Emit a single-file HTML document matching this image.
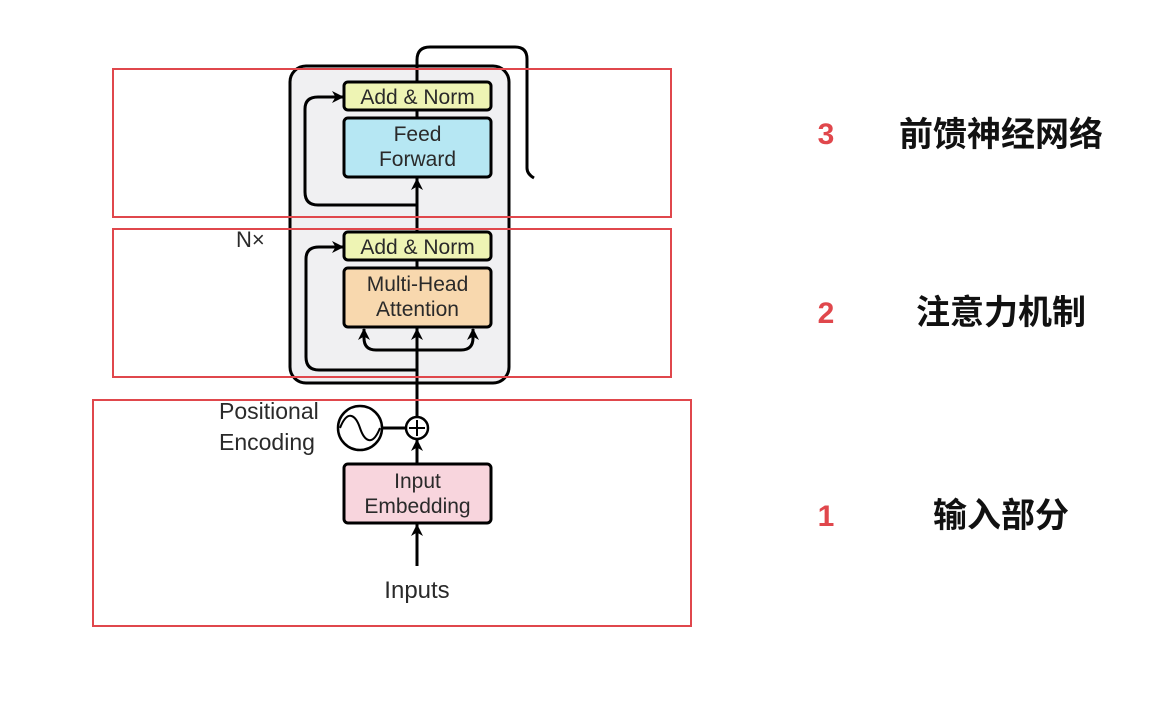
<!DOCTYPE html>
<html><head><meta charset="utf-8"><style>
html,body{margin:0;padding:0;background:#fff;width:1150px;height:710px;overflow:hidden}
svg{display:block}
.t{font-family:"Liberation Sans",sans-serif;fill:#2a2a2a;font-size:21px}
.cn{font-family:"Liberation Sans","Noto Sans CJK SC",sans-serif;font-weight:bold;font-size:34px;fill:#111}
.num{font-family:"Liberation Sans",sans-serif;font-weight:bold;font-size:30px;fill:#e0474c}
</style></head><body>
<svg width="1150" height="710" viewBox="0 0 1150 710">
<defs>
<marker id="a" markerWidth="14" markerHeight="14" refX="11" refY="6" orient="auto" markerUnits="userSpaceOnUse">
<path d="M0,0 L12,6 L0,12 L3.5,6 Z" fill="#000"/></marker>
</defs>
<rect x="290" y="66" width="219" height="317" rx="16" fill="#f0f0f2" stroke="#000" stroke-width="3"/>
<path d="M417,566 L417,60 Q417,47 430,47 L515,47 Q527,47 527,59 L527,168 Q527,174 534,178" fill="none" stroke="#000" stroke-width="3"/>
<line x1="417" y1="566" x2="417" y2="525" stroke="#000" stroke-width="3" marker-end="url(#a)"/>
<line x1="417" y1="462" x2="417" y2="440" stroke="#000" stroke-width="3" marker-end="url(#a)"/>
<line x1="417" y1="365" x2="417" y2="329" stroke="#000" stroke-width="3" marker-end="url(#a)"/>
<line x1="417" y1="205" x2="417" y2="179" stroke="#000" stroke-width="3" marker-end="url(#a)"/>
<path d="M417,205 L318,205 Q305,205 305,192 L305,109 Q305,97 318,97 L343,97" fill="none" stroke="#000" stroke-width="3" marker-end="url(#a)"/>
<path d="M417,370 L319,370 Q306,370 306,357 L306,259 Q306,247 319,247 L343,247" fill="none" stroke="#000" stroke-width="3" marker-end="url(#a)"/>
<path d="M417,350 L376,350 Q364,350 364,338 L364,329" fill="none" stroke="#000" stroke-width="3" marker-end="url(#a)"/>
<path d="M417,350 L461,350 Q473,350 473,338 L473,329" fill="none" stroke="#000" stroke-width="3" marker-end="url(#a)"/>
<rect x="344" y="82" width="147" height="28" rx="4" fill="#eef4b4" stroke="#000" stroke-width="3"/>
<text class="t" x="417.5" y="104" text-anchor="middle">Add &amp; Norm</text>
<rect x="344" y="118" width="147" height="59" rx="4" fill="#b6e7f3" stroke="#000" stroke-width="3"/>
<text class="t" x="417.5" y="141" text-anchor="middle">Feed</text>
<text class="t" x="417.5" y="166" text-anchor="middle">Forward</text>
<rect x="344" y="232" width="147" height="28" rx="4" fill="#eef4b4" stroke="#000" stroke-width="3"/>
<text class="t" x="417.5" y="254" text-anchor="middle">Add &amp; Norm</text>
<rect x="344" y="268" width="147" height="59" rx="4" fill="#f8d8ae" stroke="#000" stroke-width="3"/>
<text class="t" x="417.5" y="291" text-anchor="middle">Multi-Head</text>
<text class="t" x="417.5" y="316" text-anchor="middle">Attention</text>
<rect x="344" y="464" width="147" height="59" rx="4" fill="#f8d5dd" stroke="#000" stroke-width="3"/>
<text class="t" x="417.5" y="488" text-anchor="middle">Input</text>
<text class="t" x="417.5" y="513" text-anchor="middle">Embedding</text>
<line x1="382" y1="428" x2="406" y2="428" stroke="#000" stroke-width="3"/>
<circle cx="360" cy="428" r="22" fill="#fff" stroke="#000" stroke-width="2.5"/>
<path d="M340,428 C348,408 356,416 360,428 C364,440 372,448 380,428" fill="none" stroke="#000" stroke-width="2"/>
<circle cx="417" cy="428" r="11" fill="#fff" stroke="#000" stroke-width="2.5"/>
<line x1="417" y1="420" x2="417" y2="436" stroke="#000" stroke-width="2"/>
<line x1="409" y1="428" x2="425" y2="428" stroke="#000" stroke-width="2"/>
<text class="t" x="219" y="419" style="font-size:23px">Positional</text>
<text class="t" x="219" y="450" style="font-size:23px">Encoding</text>
<text class="t" x="417" y="598" text-anchor="middle" style="font-size:24px">Inputs</text>
<text class="t" x="236" y="247" style="font-size:22px">N×</text>
<rect x="113" y="69" width="558" height="148" fill="none" stroke="#e0474c" stroke-width="2"/>
<rect x="113" y="229" width="558" height="148" fill="none" stroke="#e0474c" stroke-width="2"/>
<rect x="93" y="400" width="598" height="226" fill="none" stroke="#e0474c" stroke-width="2"/>
<text class="num" x="826" y="144" text-anchor="middle">3</text>
<text class="cn" x="1001" y="146" text-anchor="middle">前馈神经网络</text>
<text class="num" x="826" y="323" text-anchor="middle">2</text>
<text class="cn" x="1001" y="324" text-anchor="middle">注意力机制</text>
<text class="num" x="826" y="526" text-anchor="middle">1</text>
<text class="cn" x="1001" y="527" text-anchor="middle">输入部分</text>
</svg>
</body></html>
